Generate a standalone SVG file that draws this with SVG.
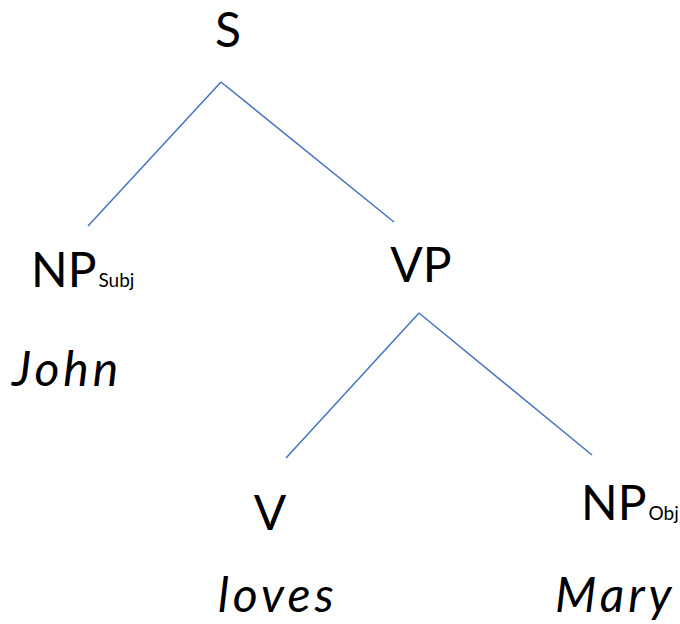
<svg xmlns="http://www.w3.org/2000/svg" width="680" height="624" viewBox="0 0 680 624">
<style>
.lbl{font-family:Lato,"Liberation Sans",sans-serif;font-size:48px;fill:#000}
.sub{font-family:Lato,"Liberation Sans",sans-serif;font-size:19px;fill:#000}
.word{font-family:Lato,"Liberation Sans",sans-serif;font-size:48px;font-style:italic;letter-spacing:4px;fill:#000}
.edge{stroke:#4472C4;stroke-width:1.5;fill:none}
</style>
<rect width="680" height="624" fill="#fff"/>
<g id="connectors">
<line class="edge" x1="221" y1="82" x2="88" y2="226"/>
<line class="edge" x1="221" y1="82" x2="394" y2="222"/>
<line class="edge" x1="419" y1="313" x2="286" y2="458"/>
<line class="edge" x1="419" y1="313" x2="592" y2="455"/>
</g>
<g id="S"><text class="lbl" x="228" y="47" text-anchor="middle">S</text></g>
<g id="NPSubj"><text class="lbl" x="31" y="287">NP<tspan class="sub" dx="2">Subj</tspan></text></g>
<g id="John"><text class="word" x="12" y="386">John</text></g>
<g id="VP"><text class="lbl" x="421" y="282" text-anchor="middle">VP</text></g>
<g id="V"><text class="lbl" x="270" y="530" text-anchor="middle">V</text></g>
<g id="loves"><text class="word" x="218" y="612">loves</text></g>
<g id="NPObj"><text class="lbl" x="581" y="520">NP<tspan class="sub" dx="2">Obj</tspan></text></g>
<g id="Mary"><text class="word" x="555" y="612">Mary</text></g>
</svg>
